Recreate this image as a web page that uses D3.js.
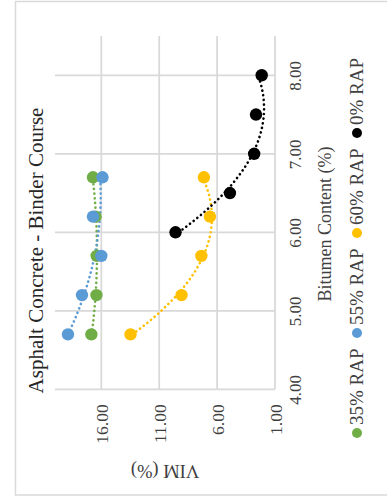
<!DOCTYPE html>
<html>
<head>
<meta charset="utf-8">
<script src="https://cdn.jsdelivr.net/npm/d3@7"></script>
<style>
  html, body { margin: 0; padding: 0; background: #ffffff; }
  svg { display: block; }
  text { font-family: "Liberation Serif", "Times New Roman", serif; fill: #404040; }
</style>
</head>
<body>
<svg id="chart" width="387" height="502"></svg>
<script>
// Bitumen content (%) tested for each mix
const bitumenVirgin = [6.0, 6.5, 7.0, 7.5, 8.0];
const bitumenRap = [4.7, 5.2, 5.7, 6.2, 6.7];

// Voids in mineral aggregate, VIM (%)
const vim0 = [9.59, 4.89, 2.80, 2.64, 2.15];
const vim35 = [16.86, 16.42, 16.40, 16.50, 16.72];
const vim55 = [18.88, 17.67, 16.00, 16.72, 15.90];
const vim60 = [13.48, 9.07, 7.36, 6.62, 7.14];

const seriesNames = ["35% RAP", "55% RAP", "60% RAP", "0% RAP"];
const seriesColors = ["#70AD47", "#5B9BD5", "#FFC000", "#000000"];

const bitumenTicks = [4, 5, 6, 7, 8];
const vimTicks = [1, 6, 11, 16];

const chartTitle = "Asphalt Concrete - Binder Course";
const bitumenTitle = "Bitumen Content (%)";
const vimTitle = "VIM (%)";

const series = [
  { name: seriesNames[0], color: seriesColors[0], xs: bitumenRap, ys: vim35 },
  { name: seriesNames[1], color: seriesColors[1], xs: bitumenRap, ys: vim55 },
  { name: seriesNames[2], color: seriesColors[2], xs: bitumenRap, ys: vim60 },
  { name: seriesNames[3], color: seriesColors[3], xs: bitumenVirgin, ys: vim0 }
];

const svg = d3.select("#chart");

// The chart is laid out turned a quarter turn: bitumen runs up the page, VIM runs leftwards.
const yB = d3.scaleLinear().domain([4, 8.5]).range([389.3, 36]);
const xV = d3.scaleLinear().domain([1, 20]).range([275, 55]);

// outer frame
svg.append("rect")
  .attr("x", 15.5).attr("y", 1.5)
  .attr("width", 400).attr("height", 493.5)
  .attr("fill", "#ffffff")
  .attr("stroke", "#d9d9d9").attr("stroke-width", 1.5);

// gridlines
const grid = svg.append("g");
grid.selectAll("line.gb").data(bitumenTicks).join("line")
  .attr("x1", xV(20)).attr("x2", xV(1))
  .attr("y1", d => yB(d)).attr("y2", d => yB(d))
  .attr("stroke", "#d9d9d9").attr("stroke-width", 1.75);
grid.selectAll("line.gv").data(vimTicks).join("line")
  .attr("x1", d => xV(d)).attr("x2", d => xV(d))
  .attr("y1", yB(4)).attr("y2", yB(8.5))
  .attr("stroke", "#d9d9d9").attr("stroke-width", 1.75);

// bitumen axis labels
const axB = d3.axisRight(yB).tickValues(bitumenTicks).tickSize(0).tickFormat(d3.format(".2f"));
const gB = svg.append("g").attr("transform", `translate(${xV(1)},0)`).call(axB);
gB.select(".domain").remove();
gB.selectAll("text")
  .attr("x", 0).attr("dy", null).attr("y", 0)
  .attr("transform", "translate(26,0) rotate(-90)")
  .attr("text-anchor", "middle")
  .style("font-size", "17px").style("fill", "#404040");

// VIM axis labels
const axV = d3.axisBottom(xV).tickValues(vimTicks).tickSize(0).tickFormat(d3.format(".2f"));
const gV = svg.append("g").attr("transform", `translate(0,${yB(4)})`).call(axV);
gV.select(".domain").remove();
gV.selectAll("text")
  .attr("x", 0).attr("y", 0).attr("dy", null)
  .attr("transform", "translate(6,15) rotate(-90)")
  .attr("text-anchor", "end")
  .style("font-size", "17.5px").style("fill", "#404040");

// quadratic least-squares trendline
function quadFit(xs, ys) {
  const n = xs.length;
  let s1 = 0, s2 = 0, s3 = 0, s4 = 0, t0 = 0, t1 = 0, t2 = 0;
  for (let i = 0; i < n; i++) {
    const x = xs[i], y = ys[i];
    s1 += x; s2 += x * x; s3 += x * x * x; s4 += x * x * x * x;
    t0 += y; t1 += x * y; t2 += x * x * y;
  }
  const M = [[n, s1, s2, t0], [s1, s2, s3, t1], [s2, s3, s4, t2]];
  for (let c = 0; c < 3; c++) {
    for (let r = c + 1; r < 3; r++) {
      const f = M[r][c] / M[c][c];
      for (let k = c; k < 4; k++) M[r][k] -= f * M[c][k];
    }
  }
  const co = [0, 0, 0];
  for (let r = 2; r >= 0; r--) {
    let s = M[r][3];
    for (let k = r + 1; k < 3; k++) s -= M[r][k] * co[k];
    co[r] = s / M[r][r];
  }
  return x => co[0] + co[1] * x + co[2] * x * x;
}

const line = d3.line().x(d => xV(d[1])).y(d => yB(d[0]));
const trends = svg.append("g");
series.forEach(s => {
  const f = quadFit(s.xs, s.ys);
  const lo = d3.min(s.xs), hi = d3.max(s.xs);
  const pts = d3.range(0, 61).map(i => {
    const b = lo + (hi - lo) * i / 60;
    return [b, f(b)];
  });
  trends.append("path")
    .attr("d", line(pts))
    .attr("fill", "none")
    .attr("stroke", s.color)
    .attr("stroke-width", 2.6)
    .attr("stroke-linecap", "round")
    .attr("stroke-dasharray", "0.1 4.6");
});

// markers
const marks = svg.append("g");
series.forEach(s => {
  marks.selectAll(null).data(s.xs.map((b, i) => [b, s.ys[i]])).join("circle")
    .attr("cx", d => xV(d[1])).attr("cy", d => yB(d[0]))
    .attr("r", 6.2)
    .attr("fill", s.color);
});

// chart title
svg.append("text")
  .attr("transform", "translate(43,250.5) rotate(-90)")
  .attr("text-anchor", "middle")
  .style("font-size", "21px")
  .style("fill", "#262626")
  .text(chartTitle);

// axis titles
svg.append("text")
  .attr("transform", "translate(331,224) rotate(-90)")
  .attr("text-anchor", "middle")
  .style("font-size", "18px")
  .text(bitumenTitle);

svg.append("text")
  .attr("transform", `translate(${(xV(1) + xV(20)) / 2},465) rotate(180)`)
  .attr("text-anchor", "middle")
  .style("font-size", "18.5px")
  .text(vimTitle);

// legend, reading up the right side
const legend = svg.append("g").attr("transform", "translate(357,438) rotate(-90)");
const items = series.map(s => {
  const g = legend.append("g");
  g.append("circle").attr("cx", 5).attr("cy", 0).attr("r", 5).attr("fill", s.color);
  const t = g.append("text").attr("x", 13).attr("y", 5.5)
    .style("font-size", "19px").text(s.name);
  return { g, w: 13 + t.node().getComputedTextLength() };
});
const total = 380;
const gap = (total - d3.sum(items, d => d.w)) / (items.length - 1);
let pos = 0;
items.forEach(it => {
  it.g.attr("transform", `translate(${pos},0)`);
  pos += it.w + gap;
});
</script>
</body>
</html>
